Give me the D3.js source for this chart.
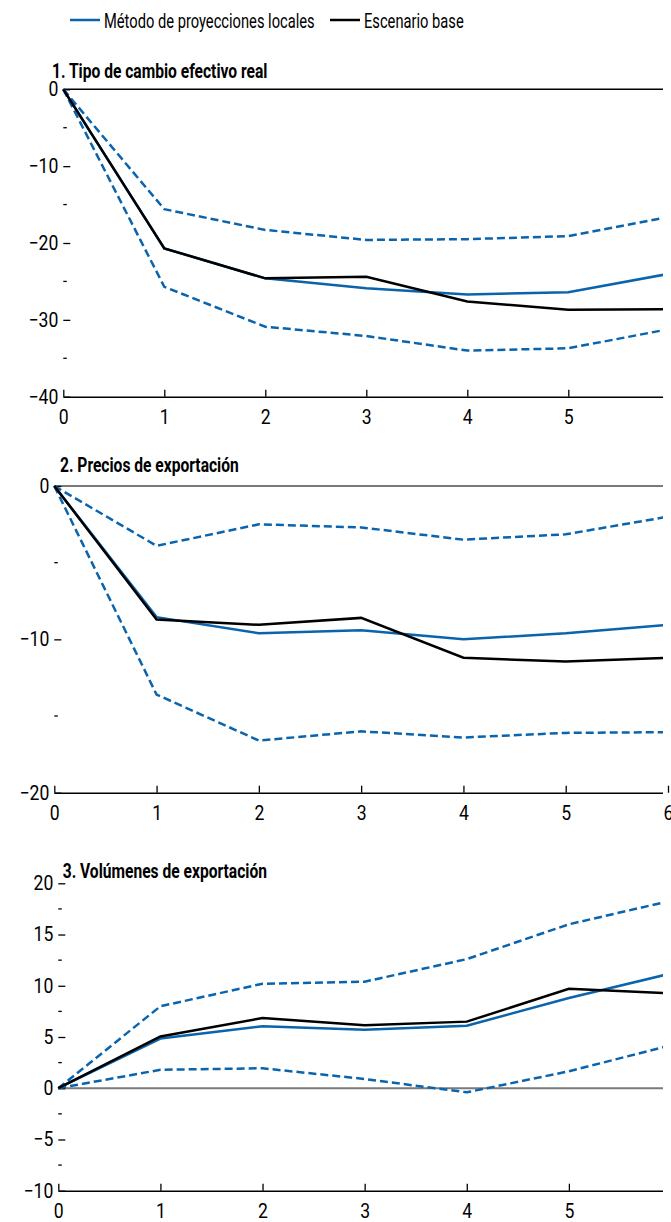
<!DOCTYPE html>
<html>
<head>
<meta charset="utf-8">
<script src="https://cdn.jsdelivr.net/npm/d3@7"></script>
<style>
  html, body { margin: 0; padding: 0; background: #fff; }
  svg { display: block; }
  text { font-family: Roboto, "Liberation Sans", sans-serif; fill: #000; }
</style>
</head>
<body>
<svg id="chart" width="671" height="1222"></svg>
<script>
// Horizon (years after the shock)
const horizons = [0, 1, 2, 3, 4, 5, 6];

// 1. Tipo de cambio efectivo real
const tcerLocal = [0, -20.7, -24.6, -25.9, -26.7, -26.4, -24.0];
const tcerLocalUpper = [0, -15.6, -18.3, -19.6, -19.5, -19.1, -16.6];
const tcerLocalLower = [0, -25.7, -30.9, -32.1, -34.0, -33.7, -31.2];
const tcerBase = [0, -20.7, -24.6, -24.4, -27.6, -28.7, -28.6];

// 2. Precios de exportación
const preciosLocal = [0, -8.55, -9.6, -9.4, -10.0, -9.6, -9.05];
const preciosLocalUpper = [0, -3.9, -2.5, -2.7, -3.5, -3.15, -2.0];
const preciosLocalLower = [0, -13.6, -16.6, -16.0, -16.4, -16.1, -16.05];
const preciosBase = [0, -8.7, -9.05, -8.6, -11.2, -11.45, -11.2];

// 3. Volúmenes de exportación
const volLocal = [0, 4.85, 6.05, 5.7, 6.1, 8.8, 11.2];
const volLocalUpper = [0, 8.0, 10.2, 10.4, 12.6, 16.0, 18.3];
const volLocalLower = [0, 1.8, 1.95, 0.9, -0.4, 1.65, 4.2];
const volBase = [0, 5.05, 6.85, 6.15, 6.5, 9.7, 9.25];

// Titles, axis ranges and tick values
const panelTitles = ["1. Tipo de cambio efectivo real", "2. Precios de exportación", "3. Volúmenes de exportación"];
const yDomains = [[-40, 0], [-20, 0], [-10, 20]];
const yMajorTicks = [[-40, -30, -20, -10, 0], [-20, -10, 0], [-10, -5, 0, 5, 10, 15, 20]];
const yMinorTicks = [[-35, -25, -15, -5], [-15, -5], [-7.5, -2.5, 2.5, 7.5, 12.5, 17.5]];
const legendLabels = ["Método de proyecciones locales", "Escenario base"];

const BLUE = "#0a64ad";
const TICK_FONT = 20;
// horizontal squeeze giving a condensed typeface look
const TICK_NARROW = 0.88;
const LEGEND_NARROW = 0.70;
const TITLE_NARROW = 0.78;

const panels = [
  { local: tcerLocal, upper: tcerLocalUpper, lower: tcerLocalLower, base: tcerBase,
    x0: 63.3, x6: 669.3, yTop: 89.3, yBot: 396.7, tx: 52, ty: 77.7, zeroColor: "#000", showLast: false },
  { local: preciosLocal, upper: preciosLocalUpper, lower: preciosLocalLower, base: preciosBase,
    x0: 54.3, x6: 668, yTop: 486, yBot: 792.7, tx: 60, ty: 471.7, zeroColor: "#7a7a7a", showLast: true },
  { local: volLocal, upper: volLocalUpper, lower: volLocalLower, base: volBase,
    x0: 58.3, x6: 671, yTop: 883.3, yBot: 1190.7, tx: 62.7, ty: 878.3, zeroColor: "#7a7a7a", showLast: false }
];

const svg = d3.select("#chart");
const defs = svg.append("defs");
const CLIP_RIGHT = 663;

defs.append("clipPath").attr("id", "plotClip")
  .append("rect").attr("x", -100).attr("y", -2000).attr("width", CLIP_RIGHT + 100).attr("height", 4000);

// place a squeezed text label at (x, y)
function squeezedText(parent, x, y, k, size, str, bold) {
  return parent.append("text")
    .attr("transform", `translate(${x},${y}) scale(${k},1)`)
    .attr("font-size", size)
    .attr("font-weight", bold ? "bold" : null)
    .text(str);
}

// Legend
const legend = svg.append("g");
const legendItems = [
  { label: legendLabels[0], color: BLUE, x: 70 },
  { label: legendLabels[1], color: "#000", x: 330 }
];
legendItems.forEach(it => {
  legend.append("line").attr("x1", it.x).attr("x2", it.x + 30).attr("y1", 20).attr("y2", 20)
    .attr("stroke", it.color).attr("stroke-width", 2.5);
  squeezedText(legend, it.x + 34, 28.3, LEGEND_NARROW, 21, it.label, false);
});

panels.forEach((p, i) => {
  const x = d3.scaleLinear().domain([0, 6]).range([p.x0, p.x6]);
  const y = d3.scaleLinear().domain(yDomains[i]).range([p.yBot, p.yTop]);
  const g = svg.append("g");

  // Zero line
  g.append("line").attr("clip-path", "url(#plotClip)")
    .attr("x1", x(0)).attr("x2", x(6)).attr("y1", y(0)).attr("y2", y(0))
    .attr("stroke", p.zeroColor).attr("stroke-width", p.zeroColor === "#000" ? 1.5 : 2);

  // Y axis: major ticks pointing inward, labels to the left, no spine
  const yAxis = g.append("g").attr("transform", `translate(${x(0)},0)`)
    .call(d3.axisLeft(y).tickValues(yMajorTicks[i]).tickSizeInner(-7).tickSizeOuter(0).tickPadding(5)
      .tickFormat(d => d < 0 ? "\u2212" + Math.abs(d) : String(d)));
  yAxis.select(".domain").remove();
  yAxis.selectAll(".tick line").attr("stroke", "#000").attr("stroke-width", 1.3);
  yAxis.selectAll(".tick text").attr("font-size", TICK_FONT).attr("font-family", null)
    .attr("x", -5 / TICK_NARROW).attr("transform", `scale(${TICK_NARROW},1)`);

  // Minor y ticks
  g.append("g").selectAll("line").data(yMinorTicks[i]).join("line")
    .attr("x1", x(0)).attr("x2", x(0) + 3.5).attr("y1", d => y(d)).attr("y2", d => y(d))
    .attr("stroke", "#000").attr("stroke-width", 1.3);

  // X axis at the bottom
  const xTicks = p.showLast ? horizons : horizons.slice(0, -1);
  const xAxis = g.append("g").attr("transform", `translate(0,${y(yDomains[i][0])})`)
    .call(d3.axisBottom(x).tickValues(xTicks).tickSizeInner(-7).tickSizeOuter(0).tickPadding(13)
      .tickFormat(d3.format("d")));
  xAxis.select(".domain").attr("stroke", "#000").attr("stroke-width", 1.6).attr("clip-path", "url(#plotClip)");
  xAxis.selectAll(".tick line").attr("stroke", "#000").attr("stroke-width", 1.3);
  xAxis.selectAll(".tick text").attr("font-size", TICK_FONT).attr("font-family", null)
    .attr("transform", `scale(${TICK_NARROW},1)`);

  // Series
  const lineGen = vals => d3.line().x((d, k) => x(horizons[k])).y(d => y(d))(vals);
  const plot = g.append("g").attr("clip-path", "url(#plotClip)").attr("fill", "none")
    .attr("stroke-linejoin", "miter");
  plot.append("path").attr("d", lineGen(p.upper)).attr("stroke", BLUE).attr("stroke-width", 2.5)
    .attr("stroke-dasharray", "8,4");
  plot.append("path").attr("d", lineGen(p.lower)).attr("stroke", BLUE).attr("stroke-width", 2.5)
    .attr("stroke-dasharray", "8,4");
  plot.append("path").attr("d", lineGen(p.local)).attr("stroke", BLUE).attr("stroke-width", 2.5);
  plot.append("path").attr("d", lineGen(p.base)).attr("stroke", "#000").attr("stroke-width", 2.5);

  // Title
  squeezedText(g, p.tx, p.ty, TITLE_NARROW, 20, panelTitles[i], true);
});
</script>
</body>
</html>
